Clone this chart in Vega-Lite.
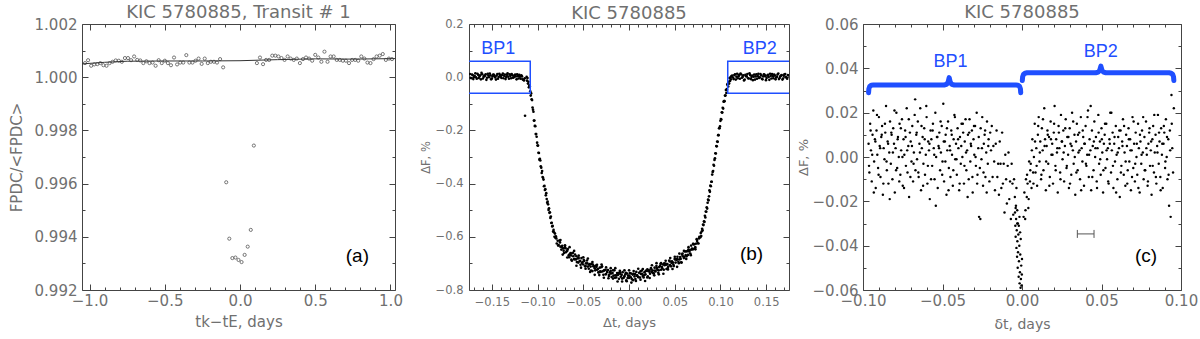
{
"$schema":"https://vega.github.io/schema/vega-lite/v6.json",
"padding":{"left":8,"top":3,"right":0,"bottom":0},
"bounds":"flush",
"spacing":74,
"config":{
 "font":"DejaVu Sans",
 "view":{"stroke":"#444444","strokeWidth":1},
 "axis":{"grid":false,"domain":false,"tickColor":"#444444","labelColor":"#707070","titleColor":"#707070","titleFontWeight":"normal","labelFont":"DejaVu Sans","titleFont":"DejaVu Sans","labelFlush":false,"labelOverlap":false,"tickWidth":1},
 "title":{"color":"#707070","fontWeight":"normal","font":"DejaVu Sans","fontSize":18,"offset":-5}
},
"hconcat":[
{
 "width":313,"height":266,
 "title":{"text":"KIC 5780885, Transit # 1"},
 "resolve":{"axis":{"x":"independent","y":"independent"}},
 "layer":[
  {
   "data":{"values":[
{"t":-1.03,"f":1.00053},{"t":-1.0096,"f":1.00064},{"t":-0.9892,"f":1.00043},{"t":-0.9688,"f":1.00048},{"t":-0.9484,"f":1.00049},{"t":-0.928,"f":1.00053},{"t":-0.9076,"f":1.00045},{"t":-0.8872,"f":1.00043},{"t":-0.8668,"f":1.00053},{"t":-0.8464,"f":1.00058},
{"t":-0.826,"f":1.00063},{"t":-0.8056,"f":1.00062},{"t":-0.7852,"f":1.00058},{"t":-0.7648,"f":1.00072},{"t":-0.7444,"f":1.00072},{"t":-0.724,"f":1.00064},{"t":-0.7036,"f":1.00078},{"t":-0.6832,"f":1.00065},{"t":-0.6628,"f":1.00063},{"t":-0.6424,"f":1.00053},
{"t":-0.622,"f":1.0006},{"t":-0.6016,"f":1.00053},{"t":-0.5812,"f":1.00055},{"t":-0.5608,"f":1.00043},{"t":-0.5404,"f":1.00064},{"t":-0.52,"f":1.00053},{"t":-0.4996,"f":1.00062},{"t":-0.4792,"f":1.00053},{"t":-0.4588,"f":1.00045},{"t":-0.4384,"f":1.00074},
{"t":-0.418,"f":1.00048},{"t":-0.3976,"f":1.00055},{"t":-0.3772,"f":1.00055},{"t":-0.3568,"f":1.00083},{"t":-0.3364,"f":1.00055},{"t":-0.316,"f":1.00055},{"t":-0.2956,"f":1.00062},{"t":-0.2752,"f":1.0007},{"t":-0.2548,"f":1.0005},{"t":-0.2344,"f":1.0007},
{"t":-0.214,"f":1.00053},{"t":-0.1936,"f":1.00058},{"t":-0.1732,"f":1.00058},{"t":-0.1528,"f":1.00055},{"t":-0.1324,"f":1.00068},{"t":-0.112,"f":1.00037},
{"t":-0.0916,"f":0.99605},{"t":-0.0712,"f":0.99393},{"t":-0.0508,"f":0.9932},{"t":-0.0304,"f":0.99322},{"t":-0.01,"f":0.99313},{"t":0.0104,"f":0.99305},{"t":0.0308,"f":0.99332},{"t":0.0512,"f":0.99363},{"t":0.0716,"f":0.99426},{"t":0.092,"f":0.99743},
{"t":0.1124,"f":1.00053},{"t":0.1328,"f":1.00074},{"t":0.1532,"f":1.00049},{"t":0.1736,"f":1.00065},{"t":0.194,"f":1.00065},{"t":0.2144,"f":1.00081},{"t":0.2348,"f":1.00081},{"t":0.2552,"f":1.00078},{"t":0.2756,"f":1.00072},{"t":0.296,"f":1.00065},
{"t":0.3164,"f":1.00078},{"t":0.3368,"f":1.0007},{"t":0.3572,"f":1.00065},{"t":0.3776,"f":1.0007},{"t":0.398,"f":1.00053},{"t":0.4184,"f":1.00068},{"t":0.4388,"f":1.00074},{"t":0.4592,"f":1.0007},{"t":0.4796,"f":1.00062},{"t":0.5,"f":1.00084},
{"t":0.5204,"f":1.00074},{"t":0.5408,"f":1.00058},{"t":0.5612,"f":1.00096},{"t":0.5816,"f":1.00058},{"t":0.602,"f":1.00078},{"t":0.6224,"f":1.00078},{"t":0.6428,"f":1.00065},{"t":0.6632,"f":1.00065},{"t":0.6836,"f":1.00062},{"t":0.704,"f":1.00062},
{"t":0.7244,"f":1.00053},{"t":0.7448,"f":1.00065},{"t":0.7652,"f":1.00065},{"t":0.7856,"f":1.00062},{"t":0.806,"f":1.00078},{"t":0.8264,"f":1.0007},{"t":0.8468,"f":1.00055},{"t":0.8672,"f":1.00053},{"t":0.8876,"f":1.00068},{"t":0.908,"f":1.00078},
{"t":0.9284,"f":1.00081},{"t":0.9488,"f":1.00087},{"t":0.9692,"f":1.00065},{"t":0.9896,"f":1.0007},{"t":1.01,"f":1.00068}
   ]},
   "mark":{"type":"point","filled":false,"size":10,"stroke":"#555555","strokeWidth":0.8,"opacity":1,"clip":true},
   "encoding":{
    "x":{"field":"t","type":"quantitative","scale":{"domain":[-1.05,1.03],"nice":false,"zero":false},
     "axis":{"orient":"bottom","values":[-1,-0.9,-0.8,-0.7,-0.6,-0.5,-0.4,-0.3,-0.2,-0.1,0,0.1,0.2,0.3,0.4,0.5,0.6,0.7,0.8,0.9,1],
      "labelExpr":"abs(datum.value*2-round(datum.value*2))<0.000001 ? format(datum.value,'.1f') : ''",
      "tickSize":{"condition":{"test":"abs(datum.value*2-round(datum.value*2))>0.000001","value":-3},"value":-6},
      "labelPadding":9,"labelFontSize":15,"title":"tk−tE, days","titleFontSize":15,"titlePadding":3}},
    "y":{"field":"f","type":"quantitative","scale":{"domain":[0.992,1.002],"nice":false,"zero":false},
     "axis":{"orient":"left","values":[0.992,0.993,0.994,0.995,0.996,0.997,0.998,0.999,1,1.001,1.002],
      "labelExpr":"abs(datum.value*500-round(datum.value*500))<0.000001 ? format(datum.value,'.3f') : ''",
      "tickSize":{"condition":{"test":"abs(datum.value*500-round(datum.value*500))>0.000001","value":-3},"value":-6},
      "labelPadding":11,"labelFontSize":15,"title":"FPDC/<FPDC>","titleFontSize":15,"titlePadding":10}}
   }
  },
  {
   "data":{"values":[{"t":-1.05,"f":1.0005},{"t":-0.9,"f":1.00056},{"t":-0.75,"f":1.0006},{"t":-0.5,"f":1.00061},{"t":-0.25,"f":1.00061},{"t":0,"f":1.00062},{"t":0.25,"f":1.00066},{"t":0.5,"f":1.00069},{"t":0.75,"f":1.00068},{"t":1.03,"f":1.0007}]},
   "mark":{"type":"line","color":"#333333","strokeWidth":1,"clip":true},
   "encoding":{
    "x":{"field":"t","type":"quantitative","scale":{"domain":[-1.05,1.03],"nice":false,"zero":false},
     "axis":{"orient":"top","values":[-1,-0.9,-0.8,-0.7,-0.6,-0.5,-0.4,-0.3,-0.2,-0.1,0,0.1,0.2,0.3,0.4,0.5,0.6,0.7,0.8,0.9,1],"labels":false,"title":null,
      "tickSize":{"condition":{"test":"abs(datum.value*2-round(datum.value*2))>0.000001","value":-3},"value":-6}}},
    "y":{"field":"f","type":"quantitative","scale":{"domain":[0.992,1.002],"nice":false,"zero":false},
     "axis":{"orient":"right","values":[0.992,0.993,0.994,0.995,0.996,0.997,0.998,0.999,1,1.001,1.002],"labels":false,"title":null,
      "tickSize":{"condition":{"test":"abs(datum.value*500-round(datum.value*500))>0.000001","value":-3},"value":-6}}}
   }
  },
  {
   "data":{"values":[{"t":0.78,"f":0.99326,"label":"(a)"}]},
   "mark":{"type":"text","font":"Liberation Sans","fontSize":19,"color":"#000000"},
   "encoding":{
    "x":{"field":"t","type":"quantitative","scale":{"domain":[-1.05,1.03],"nice":false,"zero":false},"axis":null},
    "y":{"field":"f","type":"quantitative","scale":{"domain":[0.992,1.002],"nice":false,"zero":false},"axis":null},
    "text":{"field":"label"}
   }
  }
 ]
},
{
 "width":320,"height":266,
 "title":{"text":"KIC 5780885"},
 "resolve":{"axis":{"x":"independent","y":"independent"}},
 "layer":[
  {
   "data":{"values":[
{"t":-0.174,"f":0.012},{"t":-0.1725,"f":-0.004},{"t":-0.171,"f":0.008},{"t":-0.1695,"f":0.001},{"t":-0.168,"f":0.015},{"t":-0.1665,"f":-0.006},{"t":-0.165,"f":0.009},{"t":-0.1635,"f":0.003},{"t":-0.162,"f":-0.008},{"t":-0.1605,"f":0.011},
{"t":-0.159,"f":0.002},{"t":-0.1575,"f":0.006},{"t":-0.156,"f":-0.01},{"t":-0.1545,"f":0.013},{"t":-0.153,"f":0},{"t":-0.1515,"f":0.007},{"t":-0.15,"f":-0.005},{"t":-0.1485,"f":0.01},{"t":-0.147,"f":0.004},{"t":-0.1455,"f":-0.009},
{"t":-0.144,"f":0.012},{"t":-0.1425,"f":0.001},{"t":-0.141,"f":0.008},{"t":-0.1395,"f":-0.003},{"t":-0.138,"f":0.014},{"t":-0.1365,"f":0.005},{"t":-0.135,"f":-0.007},{"t":-0.1335,"f":0.009},{"t":-0.132,"f":0.002},{"t":-0.1305,"f":0.011},
{"t":-0.129,"f":-0.004},{"t":-0.1275,"f":0.007},{"t":-0.126,"f":0},{"t":-0.1245,"f":0.01},{"t":-0.123,"f":-0.008},{"t":-0.1215,"f":0.004},{"t":-0.12,"f":0.009},{"t":-0.1185,"f":-0.006},{"t":-0.117,"f":0.003},{"t":-0.1155,"f":-0.01},
{"t":-0.114,"f":-0.004},{"t":-0.1137,"f":-0.145},
{"t":-0.1733,"f":-0.002},{"t":-0.1718,"f":0.01},{"t":-0.1703,"f":-0.007},{"t":-0.1688,"f":0.005},{"t":-0.1673,"f":0},{"t":-0.1658,"f":0.013},{"t":-0.1643,"f":-0.003},{"t":-0.1628,"f":0.007},{"t":-0.1613,"f":0.016},{"t":-0.1598,"f":-0.005},
{"t":-0.1583,"f":0.004},{"t":-0.1568,"f":0.011},{"t":-0.1553,"f":-0.002},{"t":-0.1538,"f":0.006},{"t":-0.1523,"f":0.014},{"t":-0.1508,"f":-0.008},{"t":-0.1493,"f":0.003},{"t":-0.1478,"f":0.009},{"t":-0.1463,"f":-0.001},{"t":-0.1448,"f":0.006},
{"t":-0.1433,"f":-0.006},{"t":-0.1418,"f":0.013},{"t":-0.1403,"f":0.002},{"t":-0.1388,"f":0.008},{"t":-0.1373,"f":-0.004},{"t":-0.1358,"f":0.01},{"t":-0.1343,"f":0.001},{"t":-0.1328,"f":0.015},{"t":-0.1313,"f":-0.006},{"t":-0.1298,"f":0.005},
{"t":-0.1283,"f":0.012},{"t":-0.1268,"f":-0.002},{"t":-0.1253,"f":0.006},{"t":-0.1238,"f":0.003},{"t":-0.1223,"f":0.011},{"t":-0.1208,"f":-0.005},{"t":-0.1193,"f":0.002},{"t":-0.1178,"f":0.007},{"t":-0.1163,"f":-0.008},{"t":-0.1148,"f":-0.012},
{"t":-0.112,"f":0.001},{"t":-0.1115,"f":-0.013},{"t":-0.111,"f":-0.003},{"t":-0.1105,"f":-0.024},{"t":-0.11,"f":-0.017},{"t":-0.1095,"f":-0.038},{"t":-0.109,"f":-0.031},{"t":-0.1085,"f":-0.035},{"t":-0.108,"f":-0.053},{"t":-0.1075,"f":-0.069},
{"t":-0.107,"f":-0.061},{"t":-0.1065,"f":-0.083},{"t":-0.106,"f":-0.086},{"t":-0.1055,"f":-0.114},{"t":-0.105,"f":-0.122},{"t":-0.1045,"f":-0.13},{"t":-0.104,"f":-0.163},{"t":-0.1035,"f":-0.163},{"t":-0.103,"f":-0.183},{"t":-0.1025,"f":-0.184},
{"t":-0.102,"f":-0.214},{"t":-0.1015,"f":-0.214},{"t":-0.101,"f":-0.224},{"t":-0.1005,"f":-0.246},{"t":-0.1,"f":-0.257},{"t":-0.0995,"f":-0.257},{"t":-0.099,"f":-0.284},{"t":-0.0985,"f":-0.285},{"t":-0.098,"f":-0.31},{"t":-0.0975,"f":-0.307},
{"t":-0.097,"f":-0.313},{"t":-0.0965,"f":-0.335},{"t":-0.096,"f":-0.34},{"t":-0.0955,"f":-0.36},{"t":-0.095,"f":-0.353},{"t":-0.0945,"f":-0.375},{"t":-0.094,"f":-0.378},{"t":-0.0935,"f":-0.385},{"t":-0.093,"f":-0.41},{"t":-0.0925,"f":-0.408},
{"t":-0.092,"f":-0.424},{"t":-0.0915,"f":-0.421},{"t":-0.091,"f":-0.444},{"t":-0.0905,"f":-0.436},{"t":-0.09,"f":-0.458},{"t":-0.0895,"f":-0.472},{"t":-0.089,"f":-0.468},{"t":-0.0885,"f":-0.478},{"t":-0.088,"f":-0.499},{"t":-0.0875,"f":-0.493},
{"t":-0.087,"f":-0.51},{"t":-0.0865,"f":-0.508},{"t":-0.086,"f":-0.529},{"t":-0.0855,"f":-0.524},{"t":-0.085,"f":-0.548},{"t":-0.0845,"f":-0.547},{"t":-0.084,"f":-0.561},{"t":-0.0835,"f":-0.559},{"t":-0.083,"f":-0.58},{"t":-0.0825,"f":-0.574},
{"t":-0.082,"f":-0.583},{"t":-0.0815,"f":-0.6},{"t":-0.081,"f":-0.588},{"t":-0.0805,"f":-0.604},
{"t":-0.08,"f":-0.598},{"t":-0.079,"f":-0.625},{"t":-0.078,"f":-0.615},{"t":-0.077,"f":-0.631},{"t":-0.076,"f":-0.614},{"t":-0.075,"f":-0.637},{"t":-0.074,"f":-0.648},{"t":-0.073,"f":-0.634},{"t":-0.072,"f":-0.643},{"t":-0.071,"f":-0.661},
{"t":-0.07,"f":-0.639},{"t":-0.069,"f":-0.658},{"t":-0.068,"f":-0.653},{"t":-0.067,"f":-0.646},{"t":-0.066,"f":-0.67},{"t":-0.065,"f":-0.666},{"t":-0.064,"f":-0.661},{"t":-0.063,"f":-0.686},{"t":-0.062,"f":-0.662},{"t":-0.061,"f":-0.673},
{"t":-0.06,"f":-0.684},{"t":-0.059,"f":-0.667},{"t":-0.058,"f":-0.685},{"t":-0.057,"f":-0.695},{"t":-0.056,"f":-0.681},{"t":-0.055,"f":-0.68},{"t":-0.054,"f":-0.692},{"t":-0.053,"f":-0.705},{"t":-0.052,"f":-0.68},{"t":-0.051,"f":-0.696},
{"t":-0.05,"f":-0.704},{"t":-0.049,"f":-0.691},{"t":-0.048,"f":-0.711},{"t":-0.047,"f":-0.7},{"t":-0.046,"f":-0.689},{"t":-0.045,"f":-0.712},{"t":-0.044,"f":-0.72},{"t":-0.043,"f":-0.703},{"t":-0.042,"f":-0.712},{"t":-0.041,"f":-0.702},
{"t":-0.04,"f":-0.729},{"t":-0.039,"f":-0.711},{"t":-0.038,"f":-0.711},{"t":-0.037,"f":-0.726},{"t":-0.036,"f":-0.708},{"t":-0.035,"f":-0.724},{"t":-0.034,"f":-0.721},{"t":-0.033,"f":-0.733},{"t":-0.032,"f":-0.716},{"t":-0.031,"f":-0.732},
{"t":-0.03,"f":-0.714},{"t":-0.029,"f":-0.73},{"t":-0.028,"f":-0.743},{"t":-0.027,"f":-0.726},{"t":-0.026,"f":-0.724},{"t":-0.025,"f":-0.74},{"t":-0.024,"f":-0.732},{"t":-0.023,"f":-0.725},{"t":-0.022,"f":-0.747},{"t":-0.021,"f":-0.733},
{"t":-0.02,"f":-0.729},{"t":-0.019,"f":-0.751},{"t":-0.018,"f":-0.736},{"t":-0.017,"f":-0.746},{"t":-0.016,"f":-0.726},{"t":-0.015,"f":-0.745},{"t":-0.014,"f":-0.753},{"t":-0.013,"f":-0.736},{"t":-0.012,"f":-0.743},{"t":-0.011,"f":-0.758},
{"t":-0.01,"f":-0.734},{"t":-0.009,"f":-0.75},{"t":-0.008,"f":-0.743},{"t":-0.007,"f":-0.733},{"t":-0.006,"f":-0.755},{"t":-0.005,"f":-0.748},{"t":-0.004,"f":-0.741},{"t":-0.003,"f":-0.764},{"t":-0.002,"f":-0.738},{"t":-0.001,"f":-0.746},
{"t":0,"f":-0.755},{"t":0.001,"f":-0.736},{"t":0.002,"f":-0.752},{"t":0.003,"f":-0.759},{"t":0.004,"f":-0.742},{"t":0.005,"f":-0.739},{"t":0.006,"f":-0.749},{"t":0.007,"f":-0.759},{"t":0.008,"f":-0.732},{"t":0.009,"f":-0.745},
{"t":0.01,"f":-0.751},{"t":0.011,"f":-0.735},{"t":0.012,"f":-0.753},{"t":0.013,"f":-0.74},{"t":0.014,"f":-0.727},{"t":0.015,"f":-0.747},{"t":0.016,"f":-0.753},{"t":0.017,"f":-0.733},{"t":0.018,"f":-0.741},{"t":0.019,"f":-0.728},
{"t":0.02,"f":-0.753},{"t":0.021,"f":-0.729},{"t":0.022,"f":-0.726},{"t":0.023,"f":-0.739},{"t":0.024,"f":-0.718},{"t":0.025,"f":-0.732},{"t":0.026,"f":-0.727},{"t":0.027,"f":-0.737},{"t":0.028,"f":-0.716},{"t":0.029,"f":-0.73},
{"t":0.03,"f":-0.71},{"t":0.031,"f":-0.724},{"t":0.032,"f":-0.735},{"t":0.033,"f":-0.714},{"t":0.034,"f":-0.71},{"t":0.035,"f":-0.724},{"t":0.036,"f":-0.714},{"t":0.037,"f":-0.704},{"t":0.038,"f":-0.724},{"t":0.039,"f":-0.707},
{"t":0.04,"f":-0.701},{"t":0.041,"f":-0.721},{"t":0.042,"f":-0.703},{"t":0.043,"f":-0.712},{"t":0.044,"f":-0.689},{"t":0.045,"f":-0.706},{"t":0.046,"f":-0.711},{"t":0.047,"f":-0.692},{"t":0.048,"f":-0.697},{"t":0.049,"f":-0.71},
{"t":0.05,"f":-0.683},{"t":0.051,"f":-0.697},{"t":0.052,"f":-0.687},{"t":0.053,"f":-0.675},{"t":0.054,"f":-0.694},{"t":0.055,"f":-0.685},{"t":0.056,"f":-0.676},{"t":0.057,"f":-0.696},{"t":0.058,"f":-0.667},{"t":0.059,"f":-0.673},
{"t":0.06,"f":-0.68},{"t":0.061,"f":-0.655},{"t":0.062,"f":-0.669},{"t":0.063,"f":-0.673},{"t":0.064,"f":-0.654},{"t":0.065,"f":-0.648},{"t":0.066,"f":-0.655},{"t":0.067,"f":-0.663},{"t":0.068,"f":-0.633},{"t":0.069,"f":-0.644},
{"t":0.07,"f":-0.647},{"t":0.071,"f":-0.629},{"t":0.072,"f":-0.643},{"t":0.073,"f":-0.626},{"t":0.074,"f":-0.609},{"t":0.075,"f":-0.624},{"t":0.076,"f":-0.625},{"t":0.077,"f":-0.6},
{"t":-0.0795,"f":-0.606},{"t":-0.0775,"f":-0.633},{"t":-0.0755,"f":-0.621},{"t":-0.0735,"f":-0.638},{"t":-0.0715,"f":-0.652},{"t":-0.0695,"f":-0.643},{"t":-0.0675,"f":-0.652},{"t":-0.0655,"f":-0.677},{"t":-0.0635,"f":-0.67},{"t":-0.0615,"f":-0.66},
{"t":-0.0595,"f":-0.684},{"t":-0.0575,"f":-0.673},{"t":-0.0555,"f":-0.697},{"t":-0.0535,"f":-0.69},{"t":-0.0515,"f":-0.698},{"t":-0.0495,"f":-0.687},{"t":-0.0475,"f":-0.71},{"t":-0.0455,"f":-0.7},{"t":-0.0435,"f":-0.705},{"t":-0.0415,"f":-0.727},
{"t":-0.0395,"f":-0.704},{"t":-0.0375,"f":-0.718},{"t":-0.0355,"f":-0.713},{"t":-0.0335,"f":-0.734},{"t":-0.0315,"f":-0.73},{"t":-0.0295,"f":-0.711},{"t":-0.0275,"f":-0.727},{"t":-0.0255,"f":-0.741},{"t":-0.0235,"f":-0.725},{"t":-0.0215,"f":-0.742},
{"t":-0.0195,"f":-0.738},{"t":-0.0175,"f":-0.726},{"t":-0.0155,"f":-0.754},{"t":-0.0135,"f":-0.745},{"t":-0.0115,"f":-0.736},{"t":-0.0095,"f":-0.74},{"t":-0.0075,"f":-0.757},{"t":-0.0055,"f":-0.751},{"t":-0.0035,"f":-0.735},{"t":-0.0015,"f":-0.755},
{"t":0.0005,"f":-0.746},{"t":0.0025,"f":-0.738},{"t":0.0045,"f":-0.763},{"t":0.0065,"f":-0.74},{"t":0.0085,"f":-0.746},{"t":0.0105,"f":-0.752},{"t":0.0125,"f":-0.73},{"t":0.0145,"f":-0.739},{"t":0.0165,"f":-0.745},{"t":0.0185,"f":-0.728},
{"t":0.0205,"f":-0.749},{"t":0.0225,"f":-0.731},{"t":0.0245,"f":-0.723},{"t":0.0265,"f":-0.737},{"t":0.0285,"f":-0.727},{"t":0.0305,"f":-0.718},{"t":0.0325,"f":-0.726},{"t":0.0345,"f":-0.702},{"t":0.0365,"f":-0.719},{"t":0.0385,"f":-0.7},
{"t":0.0405,"f":-0.705},{"t":0.0425,"f":-0.717},{"t":0.0445,"f":-0.693},{"t":0.0465,"f":-0.698},{"t":0.0485,"f":-0.704},{"t":0.0505,"f":-0.685},{"t":0.0525,"f":-0.684},{"t":0.0545,"f":-0.699},{"t":0.0565,"f":-0.683},{"t":0.0585,"f":-0.663},
{"t":0.0605,"f":-0.676},{"t":0.0625,"f":-0.655},{"t":0.0645,"f":-0.668},{"t":0.0665,"f":-0.65},{"t":0.0685,"f":-0.648},{"t":0.0705,"f":-0.627},{"t":0.0725,"f":-0.639},{"t":0.0745,"f":-0.616},{"t":0.0765,"f":-0.606},
{"t":-0.075,"f":-0.612},{"t":-0.0725,"f":-0.667},{"t":-0.07,"f":-0.632},{"t":-0.0675,"f":-0.678},{"t":-0.065,"f":-0.639},{"t":-0.0625,"f":-0.69},{"t":-0.06,"f":-0.653},{"t":-0.0575,"f":-0.709},{"t":-0.055,"f":-0.671},{"t":-0.0525,"f":-0.716},
{"t":-0.05,"f":-0.677},{"t":-0.0475,"f":-0.72},{"t":-0.045,"f":-0.682},{"t":-0.0425,"f":-0.732},{"t":-0.04,"f":-0.695},{"t":-0.0375,"f":-0.743},{"t":-0.035,"f":-0.705},{"t":-0.0325,"f":-0.744},{"t":-0.03,"f":-0.704},{"t":-0.0275,"f":-0.754},
{"t":-0.025,"f":-0.715},{"t":-0.0225,"f":-0.756},{"t":-0.02,"f":-0.718},{"t":-0.0175,"f":-0.757},{"t":-0.015,"f":-0.718},{"t":-0.0125,"f":-0.768},{"t":-0.01,"f":-0.728},{"t":-0.0075,"f":-0.768},{"t":-0.005,"f":-0.726},{"t":-0.0025,"f":-0.767},
{"t":0.0001,"f":-0.726},{"t":0.0026,"f":-0.772},{"t":0.0051,"f":-0.729},{"t":0.0076,"f":-0.766},{"t":0.0101,"f":-0.72},{"t":0.0126,"f":-0.761},{"t":0.0151,"f":-0.721},{"t":0.0176,"f":-0.766},{"t":0.0201,"f":-0.722},{"t":0.0226,"f":-0.755},
{"t":0.0251,"f":-0.707},{"t":0.0276,"f":-0.745},{"t":0.0301,"f":-0.699},{"t":0.0326,"f":-0.741},{"t":0.0351,"f":-0.699},{"t":0.0376,"f":-0.739},{"t":0.0401,"f":-0.69},{"t":0.0426,"f":-0.723},{"t":0.0451,"f":-0.68},{"t":0.0476,"f":-0.721},
{"t":0.0501,"f":-0.675},{"t":0.0526,"f":-0.713},{"t":0.0551,"f":-0.663},{"t":0.0576,"f":-0.697},{"t":0.0601,"f":-0.653},{"t":0.0626,"f":-0.683},{"t":0.0651,"f":-0.639},{"t":0.0676,"f":-0.669},{"t":0.0701,"f":-0.626},{"t":0.0726,"f":-0.647},
{"t":0.078,"f":-0.602},{"t":0.0785,"f":-0.586},{"t":0.079,"f":-0.597},{"t":0.0795,"f":-0.58},{"t":0.08,"f":-0.57},{"t":0.0805,"f":-0.576},{"t":0.081,"f":-0.554},{"t":0.0815,"f":-0.556},{"t":0.082,"f":-0.542},{"t":0.0825,"f":-0.544},
{"t":0.083,"f":-0.521},{"t":0.0835,"f":-0.527},{"t":0.084,"f":-0.505},{"t":0.0845,"f":-0.506},{"t":0.085,"f":-0.489},{"t":0.0855,"f":-0.494},{"t":0.086,"f":-0.472},{"t":0.0865,"f":-0.46},{"t":0.087,"f":-0.463},{"t":0.0875,"f":-0.448},
{"t":0.088,"f":-0.425},{"t":0.0885,"f":-0.431},{"t":0.089,"f":-0.407},{"t":0.0895,"f":-0.41},{"t":0.09,"f":-0.393},{"t":0.0905,"f":-0.393},{"t":0.091,"f":-0.366},{"t":0.0915,"f":-0.356},{"t":0.092,"f":-0.353},{"t":0.0925,"f":-0.329},
{"t":0.093,"f":-0.333},{"t":0.0935,"f":-0.311},{"t":0.094,"f":-0.305},{"t":0.0945,"f":-0.286},{"t":0.095,"f":-0.287},{"t":0.0955,"f":-0.259},{"t":0.096,"f":-0.26},{"t":0.0965,"f":-0.242},{"t":0.097,"f":-0.243},{"t":0.0975,"f":-0.218},
{"t":0.098,"f":-0.218},{"t":0.0985,"f":-0.192},{"t":0.099,"f":-0.192},{"t":0.0995,"f":-0.185},{"t":0.1,"f":-0.164},{"t":0.1005,"f":-0.157},{"t":0.101,"f":-0.159},{"t":0.1015,"f":-0.132},{"t":0.102,"f":-0.133},{"t":0.1025,"f":-0.115},
{"t":0.103,"f":-0.118},{"t":0.1035,"f":-0.092},{"t":0.104,"f":-0.09},{"t":0.1045,"f":-0.09},{"t":0.105,"f":-0.069},{"t":0.1055,"f":-0.069},{"t":0.106,"f":-0.048},{"t":0.1065,"f":-0.059},{"t":0.107,"f":-0.045},{"t":0.1075,"f":-0.028},
{"t":0.108,"f":-0.025},{"t":0.1085,"f":-0.035},{"t":0.109,"f":-0.017},{"t":0.1095,"f":-0.024},{"t":0.11,"f":-0.003},{"t":0.1105,"f":-0.014},{"t":0.111,"f":0},{"t":0.1115,"f":-0.008},{"t":0.112,"f":0.004},
{"t":0.113,"f":0.006},{"t":0.1145,"f":-0.007},{"t":0.116,"f":0.011},{"t":0.1175,"f":0.002},{"t":0.119,"f":-0.004},{"t":0.1205,"f":0.009},{"t":0.122,"f":0.014},{"t":0.1235,"f":-0.002},{"t":0.125,"f":0.007},{"t":0.1265,"f":-0.009},
{"t":0.128,"f":0.004},{"t":0.1295,"f":0.012},{"t":0.131,"f":-0.005},{"t":0.1325,"f":0.008},{"t":0.134,"f":0.001},{"t":0.1355,"f":-0.011},{"t":0.137,"f":0.01},{"t":0.1385,"f":0.003},{"t":0.14,"f":-0.006},{"t":0.1415,"f":0.013},
{"t":0.143,"f":0},{"t":0.1445,"f":0.007},{"t":0.146,"f":-0.008},{"t":0.1475,"f":0.011},{"t":0.149,"f":0.004},{"t":0.1505,"f":-0.003},{"t":0.152,"f":0.009},{"t":0.1535,"f":-0.01},{"t":0.155,"f":0.005},{"t":0.1565,"f":0.012},
{"t":0.158,"f":-0.004},{"t":0.1595,"f":0.006},{"t":0.161,"f":-0.001},{"t":0.1625,"f":0.01},{"t":0.164,"f":-0.007},{"t":0.1655,"f":0.003},{"t":0.167,"f":0.008},{"t":0.1685,"f":-0.005},{"t":0.17,"f":0.011},{"t":0.1715,"f":0.001},
{"t":0.173,"f":-0.006},{"t":0.1745,"f":0.007},
{"t":0.1138,"f":-0.001},{"t":0.1153,"f":0.008},{"t":0.1168,"f":-0.009},{"t":0.1183,"f":0.013},{"t":0.1198,"f":0.004},{"t":0.1213,"f":-0.006},{"t":0.1228,"f":0.01},{"t":0.1243,"f":0.001},{"t":0.1258,"f":-0.012},{"t":0.1273,"f":0.009},
{"t":0.1288,"f":0.003},{"t":0.1303,"f":-0.004},{"t":0.1318,"f":0.015},{"t":0.1333,"f":-0.007},{"t":0.1348,"f":0.006},{"t":0.1363,"f":0.002},{"t":0.1378,"f":-0.009},{"t":0.1393,"f":0.011},{"t":0.1408,"f":0.004},{"t":0.1423,"f":-0.003},
{"t":0.1438,"f":0.012},{"t":0.1453,"f":-0.006},{"t":0.1468,"f":0.003},{"t":0.1483,"f":0.009},{"t":0.1498,"f":-0.011},{"t":0.1513,"f":0.006},{"t":0.1528,"f":0.001},{"t":0.1543,"f":0.013},{"t":0.1558,"f":-0.005},{"t":0.1573,"f":0.004},
{"t":0.1588,"f":0.01},{"t":0.1603,"f":-0.008},{"t":0.1618,"f":0.002},{"t":0.1633,"f":0.014},{"t":0.1648,"f":-0.003},{"t":0.1663,"f":0.006},{"t":0.1678,"f":-0.009},{"t":0.1693,"f":0.005},{"t":0.1708,"f":0.012},{"t":0.1723,"f":-0.002},
{"t":0.1738,"f":0.008}
   ]},
   "mark":{"type":"circle","size":7,"color":"#000000","opacity":1,"clip":true},
   "encoding":{
    "x":{"field":"t","type":"quantitative","scale":{"domain":[-0.175,0.175],"nice":false,"zero":false},
     "axis":{"orient":"bottom","values":[-0.17,-0.16,-0.15,-0.14,-0.13,-0.12,-0.11,-0.1,-0.09,-0.08,-0.07,-0.06,-0.05,-0.04,-0.03,-0.02,-0.01,0,0.01,0.02,0.03,0.04,0.05,0.06,0.07,0.08,0.09,0.1,0.11,0.12,0.13,0.14,0.15,0.16,0.17],
      "labelExpr":"abs(datum.value*20-round(datum.value*20))<0.000001 ? format(datum.value,'.2f') : ''",
      "tickSize":{"condition":{"test":"abs(datum.value*20-round(datum.value*20))>0.000001","value":-3},"value":-6},
      "labelPadding":12,"labelFontSize":11.5,"title":"Δt, days","titleFontSize":13,"titlePadding":6}},
    "y":{"field":"f","type":"quantitative","scale":{"domain":[-0.8,0.2],"nice":false,"zero":false},
     "axis":{"orient":"left","values":[-0.8,-0.7,-0.6,-0.5,-0.4,-0.3,-0.2,-0.1,0,0.1,0.2],
      "labelExpr":"abs(datum.value*5-round(datum.value*5))<0.000001 ? format(datum.value,'.1f') : ''",
      "tickSize":{"condition":{"test":"abs(datum.value*5-round(datum.value*5))>0.000001","value":-3},"value":-6},
      "labelPadding":12,"labelFontSize":11.5,"title":"ΔF, %","titleFontSize":11.5,"titlePadding":4}}
   }
  },
  {
   "data":{"values":[{"t":-0.185,"t2":-0.108,"f":-0.06,"f2":0.06},{"t":0.108,"t2":0.185,"f":-0.06,"f2":0.06}]},
   "mark":{"type":"rect","fill":null,"fillOpacity":0,"stroke":"#1f4fff","strokeWidth":1.5,"clip":true},
   "encoding":{
    "x":{"field":"t","type":"quantitative","scale":{"domain":[-0.175,0.175],"nice":false,"zero":false},
     "axis":{"orient":"top","values":[-0.17,-0.16,-0.15,-0.14,-0.13,-0.12,-0.11,-0.1,-0.09,-0.08,-0.07,-0.06,-0.05,-0.04,-0.03,-0.02,-0.01,0,0.01,0.02,0.03,0.04,0.05,0.06,0.07,0.08,0.09,0.1,0.11,0.12,0.13,0.14,0.15,0.16,0.17],"labels":false,"title":null,
      "tickSize":{"condition":{"test":"abs(datum.value*20-round(datum.value*20))>0.000001","value":-3},"value":-6}}},
    "x2":{"field":"t2"},
    "y":{"field":"f","type":"quantitative","scale":{"domain":[-0.8,0.2],"nice":false,"zero":false},
     "axis":{"orient":"right","values":[-0.8,-0.7,-0.6,-0.5,-0.4,-0.3,-0.2,-0.1,0,0.1,0.2],"labels":false,"title":null,
      "tickSize":{"condition":{"test":"abs(datum.value*5-round(datum.value*5))>0.000001","value":-3},"value":-6}}},
    "y2":{"field":"f2"}
   }
  },
  {
   "data":{"values":[{"t":-0.143,"f":0.106,"label":"BP1"},{"t":0.143,"f":0.106,"label":"BP2"},{"t":0.134,"f":-0.665,"label":"(b)"}]},
   "mark":{"type":"text","font":"Liberation Sans","fontSize":18},
   "encoding":{
    "x":{"field":"t","type":"quantitative","scale":{"domain":[-0.175,0.175],"nice":false,"zero":false},"axis":null},
    "y":{"field":"f","type":"quantitative","scale":{"domain":[-0.8,0.2],"nice":false,"zero":false},"axis":null},
    "text":{"field":"label"},
    "color":{"condition":{"test":"datum.label == '(b)'","value":"#000000"},"value":"#1f4fff"},
    "size":{"condition":{"test":"datum.label == '(b)'","value":19},"value":18}
   }
  }
 ]
},
{
 "width":318,"height":266,
 "title":{"text":"KIC 5780885"},
 "resolve":{"axis":{"x":"independent","y":"independent"}},
 "layer":[
  {
   "data":{"values":[
{"t":-0.0965,"f":0.006},{"t":-0.096,"f":-0.007},{"t":-0.0955,"f":0.015},{"t":-0.095,"f":0.003},{"t":-0.0945,"f":-0.011},{"t":-0.094,"f":0.01},{"t":-0.0935,"f":0.021},{"t":-0.093,"f":-0.002},{"t":-0.0925,"f":0.008},{"t":-0.092,"f":-0.014},
{"t":-0.0915,"f":0.012},{"t":-0.091,"f":0.001},{"t":-0.0905,"f":-0.005},{"t":-0.09,"f":0.018},{"t":-0.0895,"f":0.005},{"t":-0.089,"f":-0.009},{"t":-0.0885,"f":0.009},{"t":-0.088,"f":0.014},{"t":-0.0875,"f":-0.017},{"t":-0.087,"f":0.004},
{"t":-0.0865,"f":-0.001},{"t":-0.086,"f":0.011},{"t":-0.0855,"f":0.023},{"t":-0.085,"f":-0.006},{"t":-0.0845,"f":0.007},{"t":-0.084,"f":-0.012},{"t":-0.0835,"f":0.002},{"t":-0.083,"f":0.016},{"t":-0.0825,"f":-0.003},{"t":-0.082,"f":0.01},
{"t":-0.0815,"f":-0.01},{"t":-0.081,"f":0.013},{"t":-0.0805,"f":0.006},{"t":-0.08,"f":-0.016},{"t":-0.0795,"f":0.004},{"t":-0.079,"f":0.02},{"t":-0.0785,"f":-0.005},{"t":-0.078,"f":0.009},{"t":-0.0775,"f":0},{"t":-0.077,"f":0.015},
{"t":-0.0765,"f":-0.008},{"t":-0.076,"f":0.003},{"t":-0.0755,"f":0.017},{"t":-0.075,"f":-0.013},{"t":-0.0745,"f":0.008},{"t":-0.074,"f":0.001},{"t":-0.0735,"f":0.012},{"t":-0.073,"f":-0.004},{"t":-0.0725,"f":0.022},{"t":-0.072,"f":-0.007},
{"t":-0.0715,"f":0.005},{"t":-0.071,"f":-0.018},{"t":-0.0705,"f":0.011},{"t":-0.07,"f":0.007},{"t":-0.0695,"f":-0.002},{"t":-0.069,"f":0.014},{"t":-0.0685,"f":-0.011},{"t":-0.068,"f":0.002},{"t":-0.0675,"f":0.019},{"t":-0.067,"f":-0.006},
{"t":-0.0665,"f":0.01},{"t":-0.066,"f":-0.001},{"t":-0.0655,"f":0.016},{"t":-0.065,"f":-0.009},{"t":-0.0645,"f":0.006},{"t":-0.064,"f":0.022},{"t":-0.0635,"f":-0.015},{"t":-0.063,"f":0.004},{"t":-0.0625,"f":0.009},{"t":-0.062,"f":-0.003},
{"t":-0.0615,"f":0.013},{"t":-0.061,"f":-0.008},{"t":-0.0605,"f":0.001},{"t":-0.06,"f":0.018},{"t":-0.0595,"f":-0.012},{"t":-0.059,"f":0.007},{"t":-0.0585,"f":0.003},{"t":-0.058,"f":-0.019},{"t":-0.0575,"f":0.012},{"t":-0.057,"f":0.008},
{"t":-0.0565,"f":-0.004},{"t":-0.056,"f":0.015},{"t":-0.0555,"f":0.004},{"t":-0.055,"f":-0.01},{"t":-0.0545,"f":0.02},{"t":-0.054,"f":0},{"t":-0.0535,"f":0.009},{"t":-0.053,"f":-0.014},{"t":-0.0525,"f":0.005},{"t":-0.052,"f":0.011},
{"t":-0.0515,"f":-0.006},{"t":-0.051,"f":0.002},{"t":-0.0505,"f":0.014},{"t":-0.05,"f":-0.002},{"t":-0.0495,"f":0.024},{"t":-0.049,"f":-0.011},{"t":-0.0485,"f":0.007},{"t":-0.048,"f":0.01},{"t":-0.0475,"f":-0.017},{"t":-0.047,"f":0.003},
{"t":-0.0465,"f":0.016},{"t":-0.046,"f":-0.005},{"t":-0.0455,"f":0.005},{"t":-0.045,"f":-0.009},{"t":-0.0445,"f":0.012},{"t":-0.044,"f":0.001},{"t":-0.0435,"f":-0.013},{"t":-0.043,"f":0.008},{"t":-0.0425,"f":0.019},{"t":-0.042,"f":-0.001},
{"t":-0.0415,"f":0.006},{"t":-0.041,"f":-0.008},{"t":-0.0405,"f":0.013},{"t":-0.04,"f":0.004},{"t":-0.0395,"f":-0.015},{"t":-0.039,"f":0.009},{"t":-0.0385,"f":-0.003},{"t":-0.038,"f":0.015},{"t":-0.0375,"f":0},{"t":-0.037,"f":0.011},
{"t":-0.0365,"f":-0.012},{"t":-0.036,"f":0.007},{"t":-0.0355,"f":0.017},{"t":-0.035,"f":-0.006},{"t":-0.0345,"f":0.003},{"t":-0.034,"f":0.01},{"t":-0.0335,"f":-0.01},{"t":-0.033,"f":0.017},{"t":-0.0325,"f":-0.002},{"t":-0.032,"f":0.005},
{"t":-0.0315,"f":0.012},{"t":-0.031,"f":-0.016},{"t":-0.0305,"f":0.008},{"t":-0.03,"f":0.001},{"t":-0.0295,"f":0.014},{"t":-0.029,"f":-0.004},{"t":-0.0285,"f":0.02},{"t":-0.028,"f":-0.008},{"t":-0.0275,"f":0.004},{"t":-0.027,"f":-0.027},
{"t":-0.0265,"f":-0.005},{"t":-0.026,"f":0.013},{"t":-0.0255,"f":-0.001},{"t":-0.025,"f":0.018},{"t":-0.0245,"f":-0.013},{"t":-0.024,"f":0.006},{"t":-0.0235,"f":0.01},{"t":-0.023,"f":-0.009},{"t":-0.0225,"f":0.002},{"t":-0.022,"f":0.016},
{"t":-0.0215,"f":-0.003},{"t":-0.021,"f":0.008},{"t":-0.0205,"f":-0.011},{"t":-0.02,"f":0.011},{"t":-0.0195,"f":0.003},{"t":-0.019,"f":0.014},{"t":-0.0185,"f":-0.009},{"t":-0.018,"f":0.005},{"t":-0.0175,"f":-0.002},{"t":-0.017,"f":-0.015},
{"t":-0.0165,"f":0.006},{"t":-0.016,"f":0.012},{"t":-0.0155,"f":-0.009},{"t":-0.015,"f":-0.003},{"t":-0.0145,"f":-0.017},{"t":-0.014,"f":0.007},{"t":-0.0135,"f":-0.003},{"t":-0.013,"f":-0.014},{"t":-0.0125,"f":0.011},{"t":-0.012,"f":-0.012},
{"t":-0.0115,"f":-0.003},{"t":-0.011,"f":-0.025},{"t":-0.0105,"f":0.001},{"t":-0.01,"f":-0.01},{"t":-0.0095,"f":-0.021},{"t":-0.009,"f":-0.004},{"t":-0.0085,"f":0.002},{"t":-0.008,"f":-0.019},{"t":-0.0075,"f":-0.011},{"t":-0.007,"f":-0.028},
{"t":-0.0065,"f":-0.003},{"t":-0.006,"f":-0.012},{"t":-0.0055,"f":-0.026},{"t":-0.005,"f":-0.01},{"t":-0.0045,"f":-0.018},{"t":-0.004,"f":-0.023},{"t":-0.0035,"f":-0.014},{"t":-0.003,"f":-0.03},
{"t":-0.0962,"f":-0.004},{"t":-0.0952,"f":0.012},{"t":-0.0942,"f":0.001},{"t":-0.0932,"f":-0.016},{"t":-0.0922,"f":0.007},{"t":-0.0912,"f":0.019},{"t":-0.0902,"f":-0.008},{"t":-0.0892,"f":0.004},{"t":-0.0882,"f":0.01},{"t":-0.0872,"f":-0.012},
{"t":-0.0862,"f":0.015},{"t":-0.0852,"f":-0.002},{"t":-0.0842,"f":0.006},{"t":-0.0832,"f":-0.019},{"t":-0.0822,"f":0.011},{"t":-0.0812,"f":0.002},{"t":-0.0802,"f":0.021},{"t":-0.0792,"f":-0.006},{"t":-0.0782,"f":0.008},{"t":-0.0772,"f":-0.011},
{"t":-0.0762,"f":0.013},{"t":-0.0752,"f":0},{"t":-0.0742,"f":-0.014},{"t":-0.0732,"f":0.009},{"t":-0.0722,"f":0.003},{"t":-0.0712,"f":0.017},{"t":-0.0702,"f":-0.009},{"t":-0.0692,"f":0.005},{"t":-0.0682,"f":-0.003},{"t":-0.0672,"f":0.026},
{"t":-0.0662,"f":0.011},{"t":-0.0652,"f":-0.007},{"t":-0.0642,"f":0.002},{"t":-0.0632,"f":0.014},{"t":-0.0622,"f":-0.013},{"t":-0.0612,"f":0.008},{"t":-0.0602,"f":0.023},{"t":-0.0592,"f":-0.004},{"t":-0.0582,"f":0.006},{"t":-0.0572,"f":-0.01},
{"t":-0.0562,"f":0.012},{"t":-0.0552,"f":0.001},{"t":-0.0542,"f":-0.022},{"t":-0.0532,"f":0.009},{"t":-0.0522,"f":0.004},{"t":-0.0512,"f":0.016},{"t":-0.0502,"f":-0.008},{"t":-0.0492,"f":0.007},{"t":-0.0482,"f":-0.002},{"t":-0.0472,"f":0.013},
{"t":-0.0462,"f":-0.015},{"t":-0.0452,"f":0.003},{"t":-0.0442,"f":0.01},{"t":-0.0432,"f":-0.006},{"t":-0.0422,"f":0.018},{"t":-0.0412,"f":-0.001},{"t":-0.0402,"f":0.008},{"t":-0.0392,"f":-0.012},{"t":-0.0382,"f":0.005},{"t":-0.0372,"f":0.015},
{"t":-0.0362,"f":-0.004},{"t":-0.0352,"f":0.002},{"t":-0.0342,"f":-0.018},{"t":-0.0332,"f":0.011},{"t":-0.0322,"f":0.006},{"t":-0.0312,"f":-0.009},{"t":-0.0302,"f":0.014},{"t":-0.0292,"f":0},{"t":-0.0282,"f":-0.012},{"t":-0.0272,"f":0.009},
{"t":-0.0262,"f":-0.028},{"t":-0.0252,"f":0.004},{"t":-0.0242,"f":-0.007},{"t":-0.0232,"f":0.012},{"t":-0.0222,"f":-0.016},{"t":-0.0212,"f":0.005},
{"t":-0.0042,"f":-0.031},{"t":-0.004,"f":-0.036},{"t":-0.0037,"f":-0.028},{"t":-0.0035,"f":-0.041},{"t":-0.0033,"f":-0.033},{"t":-0.0031,"f":-0.045},{"t":-0.0029,"f":-0.038},{"t":-0.0027,"f":-0.05},{"t":-0.0025,"f":-0.043},{"t":-0.0023,"f":-0.035},
{"t":-0.0021,"f":-0.054},{"t":-0.0019,"f":-0.047},{"t":-0.0017,"f":-0.04},{"t":-0.0015,"f":-0.057},{"t":-0.0013,"f":-0.052},{"t":-0.0011,"f":-0.044},{"t":-0.0009,"f":-0.059},{"t":-0.0007,"f":-0.055},{"t":-0.0005,"f":-0.049},{"t":-0.0003,"f":-0.058},
{"t":-0.0001,"f":-0.053},{"t":-0.0044,"f":-0.025},{"t":-0.0038,"f":-0.022},{"t":-0.0026,"f":-0.03},{"t":-0.0016,"f":-0.027},{"t":-0.0008,"f":-0.037},{"t":0,"f":-0.046},{"t":-0.0012,"f":-0.034},{"t":-0.003,"f":-0.024},{"t":-0.002,"f":-0.031},
{"t":0.001,"f":-0.027},{"t":0.0015,"f":-0.016},{"t":0.002,"f":-0.028},{"t":0.0025,"f":-0.01},{"t":0.003,"f":-0.018},{"t":0.0035,"f":-0.012},{"t":0.004,"f":-0.023},{"t":0.0045,"f":-0.002},{"t":0.005,"f":-0.011},{"t":0.0055,"f":-0.003},
{"t":0.006,"f":-0.014},{"t":0.0065,"f":0.008},{"t":0.007,"f":-0.007},{"t":0.0075,"f":0},{"t":0.008,"f":0.015},{"t":0.0085,"f":-0.007},{"t":0.009,"f":0.004},{"t":0.0095,"f":-0.013},{"t":0.01,"f":0.01},{"t":0.0105,"f":0.018},
{"t":0.011,"f":-0.002},{"t":0.0115,"f":0.007},{"t":0.012,"f":-0.01},{"t":0.0125,"f":0.013},{"t":0.013,"f":0.003},{"t":0.0135,"f":-0.006},{"t":0.014,"f":0.022},{"t":0.0145,"f":0.008},{"t":0.015,"f":-0.015},{"t":0.0155,"f":0.005},
{"t":0.016,"f":0.012},{"t":0.0165,"f":-0.003},{"t":0.017,"f":0.009},{"t":0.0175,"f":-0.009},{"t":0.018,"f":0.016},{"t":0.0185,"f":0.001},{"t":0.019,"f":0.006},{"t":0.0195,"f":-0.012},{"t":0.02,"f":0.011},{"t":0.0205,"f":0.023},
{"t":0.021,"f":-0.004},{"t":0.0215,"f":0.008},{"t":0.022,"f":0.002},{"t":0.0225,"f":-0.016},{"t":0.023,"f":0.014},{"t":0.0235,"f":0.004},{"t":0.024,"f":-0.007},{"t":0.0245,"f":0.019},{"t":0.025,"f":0.007},{"t":0.0255,"f":-0.001},
{"t":0.026,"f":0.012},{"t":0.0265,"f":-0.011},{"t":0.027,"f":0.005},{"t":0.0275,"f":0.017},{"t":0.028,"f":-0.005},{"t":0.0285,"f":0.009},{"t":0.029,"f":0.001},{"t":0.0295,"f":-0.014},{"t":0.03,"f":0.013},{"t":0.0305,"f":0.006},
{"t":0.031,"f":-0.008},{"t":0.0315,"f":0.02},{"t":0.032,"f":0.003},{"t":0.0325,"f":-0.003},{"t":0.033,"f":0.01},{"t":0.0335,"f":-0.017},{"t":0.034,"f":0.007},{"t":0.0345,"f":0.015},{"t":0.035,"f":-0.006},{"t":0.0355,"f":0.002},
{"t":0.036,"f":0.011},{"t":0.0365,"f":-0.01},{"t":0.037,"f":0.018},{"t":0.0375,"f":0.004},{"t":0.038,"f":-0.002},{"t":0.0385,"f":0.009},{"t":0.039,"f":-0.013},{"t":0.0395,"f":0.006},{"t":0.04,"f":0.014},{"t":0.0405,"f":-0.004},
{"t":0.041,"f":0.001},{"t":0.0415,"f":0.021},{"t":0.042,"f":-0.009},{"t":0.0425,"f":0.008},{"t":0.043,"f":0.003},{"t":0.0435,"f":-0.015},{"t":0.044,"f":0.012},{"t":0.0445,"f":0.005},{"t":0.045,"f":-0.006},{"t":0.0455,"f":0.016},
{"t":0.046,"f":0},{"t":0.0465,"f":0.009},{"t":0.047,"f":-0.011},{"t":0.0475,"f":0.004},{"t":0.048,"f":0.019},{"t":0.0485,"f":-0.003},{"t":0.049,"f":0.007},{"t":0.0495,"f":-0.008},{"t":0.05,"f":0.013},{"t":0.0505,"f":0.002},
{"t":0.051,"f":-0.016},{"t":0.0515,"f":0.006},{"t":0.052,"f":0.01},{"t":0.0525,"f":-0.005},{"t":0.053,"f":0.015},{"t":0.0535,"f":-0.001},{"t":0.054,"f":0.004},{"t":0.0545,"f":-0.012},{"t":0.055,"f":0.008},{"t":0.0555,"f":0.02},
{"t":0.056,"f":-0.007},{"t":0.0565,"f":0.003},{"t":0.057,"f":0.011},{"t":0.0575,"f":-0.014},{"t":0.058,"f":0.006},{"t":0.0585,"f":-0.002},{"t":0.059,"f":0.014},{"t":0.0595,"f":0.001},{"t":0.06,"f":-0.01},{"t":0.0605,"f":0.009},
{"t":0.061,"f":0.004},{"t":0.0615,"f":-0.018},{"t":0.062,"f":0.012},{"t":0.0625,"f":-0.004},{"t":0.063,"f":0.007},{"t":0.0635,"f":0.017},{"t":0.064,"f":-0.008},{"t":0.0645,"f":0.002},{"t":0.065,"f":-0.013},{"t":0.0655,"f":0.01},
{"t":0.066,"f":0.005},{"t":0.0665,"f":-0.006},{"t":0.067,"f":0.013},{"t":0.0675,"f":-0.002},{"t":0.068,"f":0.008},{"t":0.0685,"f":-0.015},{"t":0.069,"f":0.003},{"t":0.0695,"f":0.018},{"t":0.07,"f":-0.005},{"t":0.0705,"f":0.006},
{"t":0.071,"f":-0.011},{"t":0.0715,"f":0.011},{"t":0.072,"f":0},{"t":0.0725,"f":-0.008},{"t":0.073,"f":0.015},{"t":0.0735,"f":0.004},{"t":0.074,"f":-0.016},{"t":0.0745,"f":0.007},{"t":0.075,"f":-0.003},{"t":0.0755,"f":0.012},
{"t":0.076,"f":0.002},{"t":0.0765,"f":-0.01},{"t":0.077,"f":0.009},{"t":0.0775,"f":-0.006},{"t":0.078,"f":0.016},{"t":0.0785,"f":0.001},{"t":0.079,"f":-0.013},{"t":0.0795,"f":0.006},{"t":0.08,"f":0.011},{"t":0.0805,"f":-0.004},
{"t":0.081,"f":0.003},{"t":0.0815,"f":-0.017},{"t":0.082,"f":0.008},{"t":0.0825,"f":0.014},{"t":0.083,"f":-0.007},{"t":0.0835,"f":0.002},{"t":0.084,"f":0.01},{"t":0.0845,"f":-0.012},{"t":0.085,"f":0.005},{"t":0.0855,"f":0.019},
{"t":0.086,"f":-0.003},{"t":0.0865,"f":0.007},{"t":0.087,"f":-0.009},{"t":0.0875,"f":0.013},{"t":0.088,"f":0.001},{"t":0.0885,"f":-0.014},{"t":0.089,"f":0.006},{"t":0.0895,"f":0.011},{"t":0.09,"f":-0.005},{"t":0.0905,"f":0.017},
{"t":0.091,"f":0},{"t":0.0915,"f":-0.01},{"t":0.092,"f":0.008},{"t":0.0925,"f":-0.022},{"t":0.093,"f":0.012},{"t":0.0935,"f":-0.027},{"t":0.094,"f":0.028},{"t":0.0945,"f":0.004},{"t":0.095,"f":-0.007},{"t":0.0955,"f":0.022},
{"t":0.0022,"f":-0.024},{"t":0.0032,"f":-0.008},{"t":0.0042,"f":-0.019},{"t":0.0052,"f":-0.006},{"t":0.0062,"f":0.003},{"t":0.0072,"f":-0.012},{"t":0.0082,"f":0.007},{"t":0.0092,"f":-0.004},{"t":0.0102,"f":0.014},{"t":0.0112,"f":0.002},
{"t":0.0122,"f":-0.008},{"t":0.0132,"f":0.017},{"t":0.0142,"f":0.005},{"t":0.0152,"f":-0.002},{"t":0.0162,"f":0.01},{"t":0.0172,"f":-0.013},{"t":0.0182,"f":0.008},{"t":0.0192,"f":0.001},{"t":0.0202,"f":0.015},{"t":0.0212,"f":-0.006},
{"t":0.0222,"f":0.004},{"t":0.0232,"f":0.011},{"t":0.0242,"f":-0.01},{"t":0.0252,"f":0.007},{"t":0.0262,"f":0.002},{"t":0.0272,"f":0.013},{"t":0.0282,"f":-0.004},{"t":0.0292,"f":0.009},{"t":0.0302,"f":-0.012},{"t":0.0312,"f":0.005},
{"t":0.0322,"f":0.016},{"t":0.0332,"f":0},{"t":0.0342,"f":-0.007},{"t":0.0352,"f":0.01},{"t":0.0362,"f":0.003},{"t":0.0372,"f":-0.015},{"t":0.0382,"f":0.012},{"t":0.0392,"f":0.006},{"t":0.0402,"f":-0.003},{"t":0.0412,"f":0.018},
{"t":0.0422,"f":0.001},{"t":0.0432,"f":0.023},{"t":0.0442,"f":-0.009},{"t":0.0452,"f":0.007},{"t":0.0462,"f":0.004},{"t":0.0472,"f":-0.014},{"t":0.0482,"f":0.011},{"t":0.0492,"f":-0.001},{"t":0.0502,"f":0.008},{"t":0.0512,"f":-0.006},
{"t":0.0522,"f":0.015},{"t":0.0532,"f":0.003},{"t":0.0542,"f":-0.011},{"t":0.0552,"f":0.006},{"t":0.0562,"f":0.02},{"t":0.0572,"f":-0.004},{"t":0.0582,"f":0.009},{"t":0.0592,"f":-0.016},{"t":0.0602,"f":0.002},{"t":0.0612,"f":0.012},
{"t":0.0622,"f":-0.007},{"t":0.0632,"f":0.005},{"t":0.0642,"f":0.014},{"t":0.0652,"f":-0.002},{"t":0.0662,"f":-0.012},{"t":0.0672,"f":0.008},{"t":0.0682,"f":0.003},{"t":0.0692,"f":-0.009},{"t":0.0702,"f":0.016},{"t":0.0712,"f":-0.003},
{"t":0.0722,"f":0.006},{"t":0.0732,"f":-0.014},{"t":0.0742,"f":0.01},{"t":0.0752,"f":0.001},{"t":0.0762,"f":0.018},{"t":0.0772,"f":-0.006},{"t":0.0782,"f":0.004},{"t":0.0792,"f":-0.011},{"t":0.0802,"f":0.013},{"t":0.0812,"f":0.007},
{"t":0.0822,"f":-0.004},{"t":0.0832,"f":0.019},{"t":0.0842,"f":-0.009},{"t":0.0852,"f":0.002},{"t":0.0862,"f":0.011},{"t":0.0872,"f":-0.015},{"t":0.0882,"f":0.006},{"t":0.0892,"f":0.014},{"t":0.0902,"f":-0.002},{"t":0.0912,"f":0.009},
{"t":0.0922,"f":-0.008},{"t":0.0932,"f":0.003},{"t":0.0942,"f":0.015}
   ]},
   "mark":{"type":"circle","size":6,"color":"#000000","opacity":1,"clip":true},
   "encoding":{
    "x":{"field":"t","type":"quantitative","scale":{"domain":[-0.1,0.1],"nice":false,"zero":false},
     "axis":{"orient":"bottom","values":[-0.1,-0.09,-0.08,-0.07,-0.06,-0.05,-0.04,-0.03,-0.02,-0.01,0,0.01,0.02,0.03,0.04,0.05,0.06,0.07,0.08,0.09,0.1],
      "labelExpr":"abs(datum.value*20-round(datum.value*20))<0.000001 ? format(datum.value,'.2f') : ''",
      "tickSize":{"condition":{"test":"abs(datum.value*20-round(datum.value*20))>0.000001","value":-3},"value":-6},
      "labelPadding":9,"labelFontSize":15,"title":"δt, days","titleFontSize":14,"titlePadding":6}},
    "y":{"field":"f","type":"quantitative","scale":{"domain":[-0.06,0.06],"nice":false,"zero":false},
     "axis":{"orient":"left","values":[-0.06,-0.05,-0.04,-0.03,-0.02,-0.01,0,0.01,0.02,0.03,0.04,0.05,0.06],
      "labelExpr":"abs(datum.value*50-round(datum.value*50))<0.000001 ? format(datum.value,'.2f') : ''",
      "tickSize":{"condition":{"test":"abs(datum.value*50-round(datum.value*50))>0.000001","value":-3},"value":-6},
      "labelPadding":11,"labelFontSize":15,"title":"ΔF, %","titleFontSize":13,"titlePadding":2}}
   }
  },
  {
   "data":{"values":[
{"g":"BP1","t":-0.0965,"f":0.029},{"g":"BP1","t":-0.0963,"f":0.0308},{"g":"BP1","t":-0.0958,"f":0.0318},{"g":"BP1","t":-0.0948,"f":0.0324},{"g":"BP1","t":-0.0935,"f":0.0325},{"g":"BP1","t":-0.049,"f":0.0325},{"g":"BP1","t":-0.0474,"f":0.0328},{"g":"BP1","t":-0.0465,"f":0.0337},{"g":"BP1","t":-0.0458,"f":0.0358},{"g":"BP1","t":-0.0451,"f":0.0337},{"g":"BP1","t":-0.0442,"f":0.0328},{"g":"BP1","t":-0.0426,"f":0.0325},{"g":"BP1","t":-0.0038,"f":0.0325},{"g":"BP1","t":-0.0025,"f":0.0324},{"g":"BP1","t":-0.0015,"f":0.0318},{"g":"BP1","t":-0.001,"f":0.0308},{"g":"BP1","t":-0.0008,"f":0.029},
{"g":"BP2","t":0.0002,"f":0.0345},{"g":"BP2","t":0.0004,"f":0.0362},{"g":"BP2","t":0.0009,"f":0.0372},{"g":"BP2","t":0.0019,"f":0.0378},{"g":"BP2","t":0.0032,"f":0.038},{"g":"BP2","t":0.0464,"f":0.038},{"g":"BP2","t":0.048,"f":0.0383},{"g":"BP2","t":0.0489,"f":0.0392},{"g":"BP2","t":0.0496,"f":0.041},{"g":"BP2","t":0.0503,"f":0.0392},{"g":"BP2","t":0.0512,"f":0.0383},{"g":"BP2","t":0.0528,"f":0.038},{"g":"BP2","t":0.0925,"f":0.038},{"g":"BP2","t":0.0938,"f":0.0378},{"g":"BP2","t":0.0948,"f":0.0372},{"g":"BP2","t":0.0953,"f":0.0362},{"g":"BP2","t":0.0955,"f":0.0345}
   ]},
   "mark":{"type":"line","color":"#1f4fff","strokeWidth":5,"strokeJoin":"round","strokeCap":"round","clip":true},
   "encoding":{
    "x":{"field":"t","type":"quantitative","scale":{"domain":[-0.1,0.1],"nice":false,"zero":false},
     "axis":{"orient":"top","values":[-0.1,-0.09,-0.08,-0.07,-0.06,-0.05,-0.04,-0.03,-0.02,-0.01,0,0.01,0.02,0.03,0.04,0.05,0.06,0.07,0.08,0.09,0.1],"labels":false,"title":null,
      "tickSize":{"condition":{"test":"abs(datum.value*20-round(datum.value*20))>0.000001","value":-3},"value":-6}}},
    "y":{"field":"f","type":"quantitative","scale":{"domain":[-0.06,0.06],"nice":false,"zero":false},
     "axis":{"orient":"right","values":[-0.06,-0.05,-0.04,-0.03,-0.02,-0.01,0,0.01,0.02,0.03,0.04,0.05,0.06],"labels":false,"title":null,
      "tickSize":{"condition":{"test":"abs(datum.value*50-round(datum.value*50))>0.000001","value":-3},"value":-6}}},
    "detail":{"field":"g"}
   }
  },
  {
   "data":{"values":[{"t":-0.045,"f":0.0427,"label":"BP1"},{"t":0.0496,"f":0.0475,"label":"BP2"},{"t":0.078,"f":-0.0445,"label":"(c)"}]},
   "mark":{"type":"text","font":"Liberation Sans","fontSize":18},
   "encoding":{
    "x":{"field":"t","type":"quantitative","scale":{"domain":[-0.1,0.1],"nice":false,"zero":false},"axis":null},
    "y":{"field":"f","type":"quantitative","scale":{"domain":[-0.06,0.06],"nice":false,"zero":false},"axis":null},
    "text":{"field":"label"},
    "color":{"condition":{"test":"datum.label == '(c)'","value":"#000000"},"value":"#1f4fff"},
    "size":{"condition":{"test":"datum.label == '(c)'","value":19},"value":18}
   }
  },
  {
   "data":{"values":[{"t":0.0348,"t2":0.0453,"f":-0.0347,"f2":-0.0347},{"t":0.0348,"t2":0.0348,"f":-0.0365,"f2":-0.0329},{"t":0.0453,"t2":0.0453,"f":-0.0365,"f2":-0.0329}]},
   "mark":{"type":"rule","color":"#555555","strokeWidth":1},
   "encoding":{
    "x":{"field":"t","type":"quantitative","scale":{"domain":[-0.1,0.1],"nice":false,"zero":false},"axis":null},
    "x2":{"field":"t2"},
    "y":{"field":"f","type":"quantitative","scale":{"domain":[-0.06,0.06],"nice":false,"zero":false},"axis":null},
    "y2":{"field":"f2"}
   }
  }
 ]
}
]
}
